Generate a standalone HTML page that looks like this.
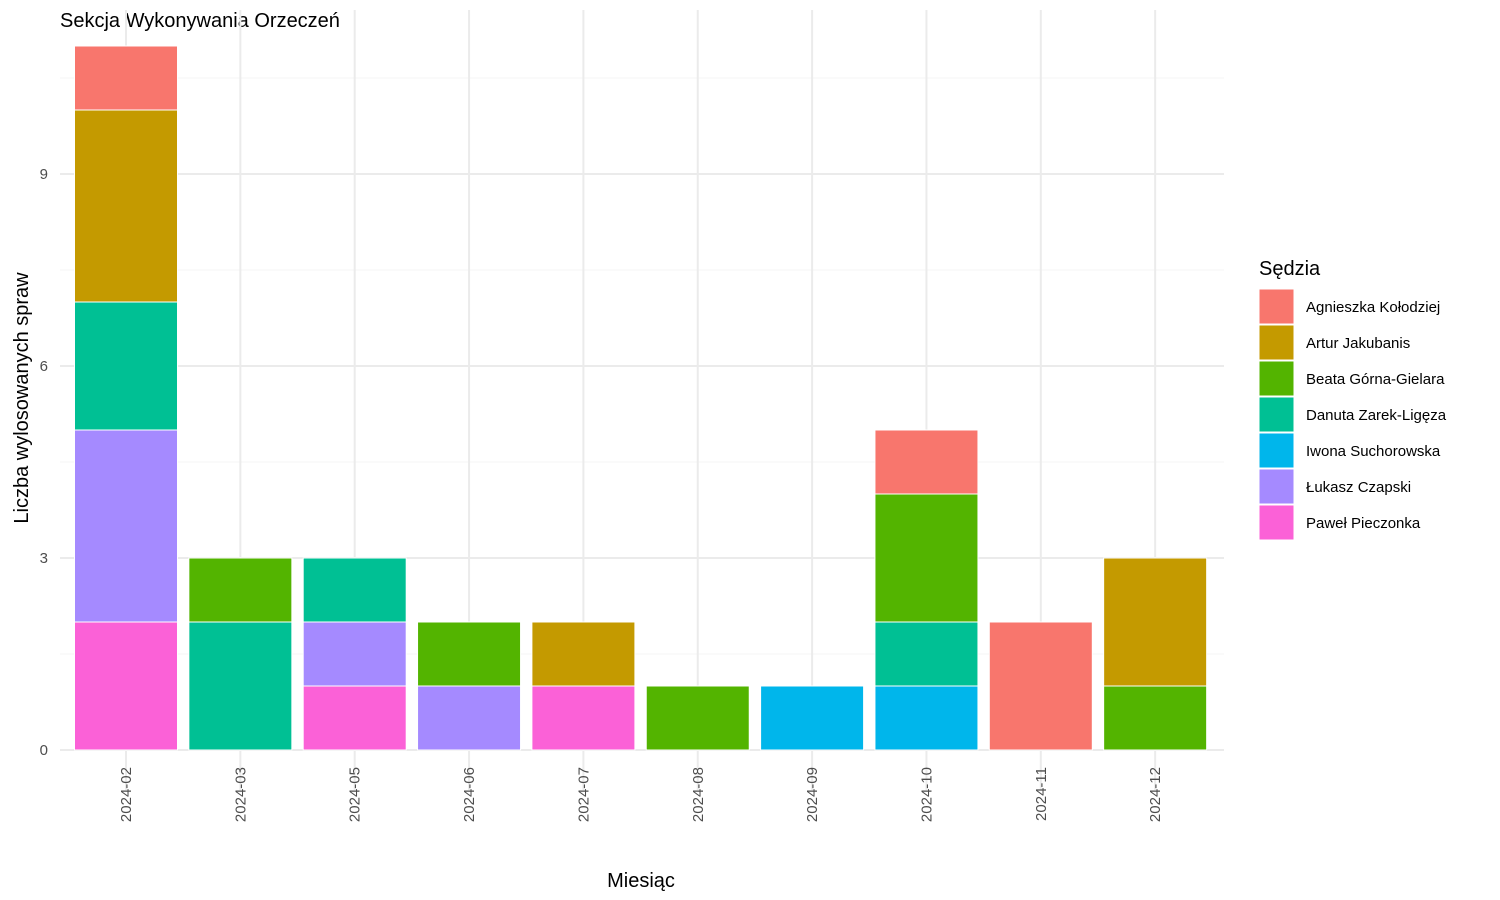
<!DOCTYPE html>
<html><head><meta charset="utf-8"><style>
body{margin:0;background:#fff;font-family:"Liberation Sans",Arial,sans-serif}
svg{display:block}
</style></head><body>
<svg id="chart" width="1500" height="900" xmlns="http://www.w3.org/2000/svg" font-family="Liberation Sans, Arial, sans-serif">
<text x="60" y="27" font-size="20" fill="#000">Sekcja Wykonywania Orzeczeń</text>
<g id="grid"></g><g id="bars"></g><g id="axes"></g><g id="legend"></g>
<text x="641" y="887" font-size="20" text-anchor="middle">Miesiąc</text>
<text transform="translate(28,398) rotate(-90)" font-size="20" text-anchor="middle">Liczba wylosowanych spraw</text>
</svg>
<script>
const categories=["2024-02","2024-03","2024-05","2024-06","2024-07","2024-08","2024-09","2024-10","2024-11","2024-12"];
const judges=["Agnieszka Kołodziej","Artur Jakubanis","Beata Górna-Gielara","Danuta Zarek-Ligęza","Iwona Suchorowska","Łukasz Czapski","Paweł Pieczonka"];
const colors=["#F8766D","#C49A00","#53B400","#00C094","#00B6EB","#A58AFF","#FB61D7"];
const agnieszka=[1,0,0,0,0,0,0,1,2,0];
const artur=[3,0,0,0,1,0,0,0,0,2];
const beata=[0,1,0,1,0,1,0,2,0,1];
const danuta=[2,2,1,0,0,0,0,1,0,0];
const iwona=[0,0,0,0,0,0,1,1,0,0];
const lukasz=[3,0,1,1,0,0,0,0,0,0];
const pawel=[2,0,1,0,1,0,0,0,0,0];
const yTicks=[0,3,6,9];
const series=[agnieszka,artur,beata,danuta,iwona,lukasz,pawel];
const NS="http://www.w3.org/2000/svg";
const band=114.35, x0=126, bw=103;
const xPos=i=>x0+i*band;
const yPos=v=>750-v*64;
const pL=60,pR=1224,pT=10,pB=790;
function mk(tag,attrs,parent){const e=document.createElementNS(NS,tag);for(const k in attrs)e.setAttribute(k,attrs[k]);parent.appendChild(e);return e;}
const grid=document.getElementById('grid'),bars=document.getElementById('bars'),axes=document.getElementById('axes'),legend=document.getElementById('legend');
for(let v=1.5;v<11.5;v+=3){const l=mk('line',{x1:pL,x2:pR,y1:yPos(v),y2:yPos(v),stroke:'#f4f4f4','stroke-width':1},grid);

}
yTicks.forEach(t=>{const l=mk('line',{x1:pL,x2:pR,y1:yPos(t),y2:yPos(t),stroke:'#ebebeb','stroke-width':2},grid);


const tx=mk('text',{x:48,y:yPos(t)+5,'font-size':15,fill:'#4d4d4d','text-anchor':'end'},axes);tx.textContent=t;

});
categories.forEach((c,i)=>{const l=mk('line',{x1:xPos(i),x2:xPos(i),y1:pT,y2:pB,stroke:'#ebebeb','stroke-width':2},grid);


const tx=mk('text',{transform:`translate(${xPos(i)+5},767) rotate(-90)`,'font-size':15,fill:'#4d4d4d','text-anchor':'end'},axes);tx.textContent=c;


let base=0;
for(let s=series.length-1;s>=0;s--){const v=series[s][i];if(!v)continue;
const r=mk('rect',{x:xPos(i)-bw/2,y:yPos(base+v),width:bw,height:yPos(base)-yPos(base+v),fill:colors[s],stroke:'#fff','stroke-width':1},bars);


base+=v;}});
const lt=mk('text',{x:1259,y:275,'font-size':20},legend);lt.textContent="Sędzia";


judges.forEach((j,k)=>{const y=289+k*36;
const r=mk('rect',{x:1259,y:y,width:35,height:35,fill:colors[k],stroke:'#fff','stroke-width':1},legend);


const t=mk('text',{x:1306,y:y+23,'font-size':15,fill:'#000'},legend);t.textContent=j;

});
</script>
</body></html>
